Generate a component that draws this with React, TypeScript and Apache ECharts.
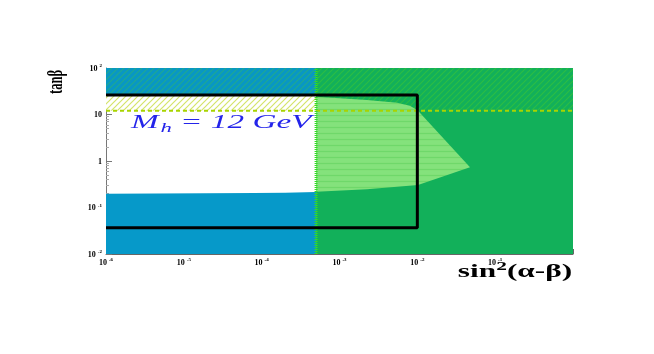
import React, { useEffect, useRef } from "react";
import * as echarts from "echarts";

// Axis ranges and ticks
const xMin = 1e-6;
const xMax = 1;
const yMin = 1e-2;
const yMax = 1e2;
const xTickExps = [-6, -5, -4, -3, -2, -1];
const yTickLabels: Record<string, string> = { "100": "2", "10": "", "1": "", "0.1": "-1", "0.01": "-2" };

// Boundaries
const xSplit = 5e-4;
const tanbLine = 12;

// Regions (x = sin^2(alpha-beta), y = tan beta)
const greenAll = [[xSplit, yMin], [xSplit, yMax], [xMax, yMax], [xMax, yMin]];
const greenUpper = [[xSplit, tanbLine], [xSplit, yMax], [xMax, yMax], [xMax, tanbLine]];
const blueLower = [[xMin, yMin], [xMin, 0.198], [2e-4, 0.207], [xSplit, 0.215], [xSplit, yMin]];
const blueUpper = [[xMin, 26], [xMin, yMax], [xSplit, yMax], [xSplit, 26]];
const yellowBand = [[xMin, tanbLine], [xMin, 26], [xSplit, 26], [xSplit, tanbLine]];
const lightGreen = [
  [xSplit, 24.2], [2.25e-3, 20.5], [5.5e-3, 17.9], [8.0e-3, 15.5], [1.0e-2, 12.5],
  [0.0475, 0.733], [1.02e-2, 0.305], [2.25e-3, 0.246], [xSplit, 0.219],
];
const boxPts = [[xMin, 26.2], [1e-2, 26.2], [1e-2, 0.0368], [xMin, 0.0368]];

function makePattern(bg: string, fg: string, kind: "diag" | "horiz"): any {
  const c = document.createElement("canvas");
  c.width = 6;
  c.height = 6;
  const ctx = c.getContext("2d")!;
  ctx.fillStyle = bg;
  ctx.fillRect(0, 0, 6, 6);
  ctx.strokeStyle = fg;
  ctx.lineWidth = 1.2;
  ctx.beginPath();
  if (kind === "diag") {
    ctx.moveTo(0, 6);
    ctx.lineTo(6, 0);
    ctx.moveTo(-3, 3);
    ctx.lineTo(3, -3);
    ctx.moveTo(3, 9);
    ctx.lineTo(9, 3);
  } else {
    ctx.moveTo(0, 1.5);
    ctx.lineTo(6, 1.5);
  }
  ctx.stroke();
  return { image: c.toDataURL(), repeat: "repeat" };
}

export default function App() {
  const ref = useRef<HTMLDivElement>(null);
  useEffect(() => {
    if (!ref.current) return;
    const chart = echarts.init(ref.current, undefined, { renderer: "svg" });

    const regions = [
      { pts: greenAll, fill: "#12b05a" as any },
      { pts: greenUpper, fill: makePattern("#12b05a", "#2cbd45", "diag") },
      { pts: blueLower, fill: "#0699c9" as any },
      { pts: blueUpper, fill: makePattern("#0897c4", "#20a892", "diag") },
      { pts: yellowBand, fill: makePattern("#ffffff", "#d4e46a", "diag") },
      { pts: lightGreen, fill: makePattern("#84e27c", "#6fd86a", "horiz") },
    ];

    const sup = (e: string) => (e === "" ? "{b|10}" : `{b|10}{s|${e}}`);
    const tickRich = {
      b: { fontFamily: "Liberation Serif", fontWeight: "bold", fontSize: 8, color: "#000" },
      s: { fontFamily: "Liberation Serif", fontWeight: "bold", fontSize: 5, color: "#000", verticalAlign: "top", padding: [0, 0, 5, 2] },
    };

    chart.setOption({
      animation: false,
      grid: { left: 106, top: 68, right: 81, bottom: 100 },
      xAxis: {
        type: "log",
        logBase: 10,
        min: xMin,
        max: xMax,
        axisLine: { show: true, lineStyle: { color: "#666", width: 1 } },
        axisTick: { show: true, inside: true, length: 5, lineStyle: { color: "#666" } },
        minorTick: { show: false },
        splitLine: { show: false },
        axisLabel: {
          margin: 3,
          formatter: (v: number) => {
            const e = Math.round(Math.log10(v));
            return xTickExps.includes(e) ? sup(String(e)) : "";
          },
          rich: tickRich,
        },
      },
      yAxis: {
        type: "log",
        logBase: 10,
        min: yMin,
        max: yMax,
        axisLine: { show: true, lineStyle: { color: "#777", width: 1 } },
        axisTick: { show: true, inside: true, length: 6, lineStyle: { color: "#777" } },
        minorTick: { show: true, length: 3, splitNumber: 9, lineStyle: { color: "#aaa" } },
        splitLine: { show: false },
        axisLabel: {
          margin: 4,
          formatter: (v: number) => {
            const k = String(Number(v.toPrecision(3)));
            if (k === "1") return "{b|1}";
            return k in yTickLabels ? sup(yTickLabels[k]) : "";
          },
          rich: tickRich,
        },
      },
      series: [
        {
          type: "custom",
          coordinateSystem: "cartesian2d",
          clip: true,
          silent: true,
          data: regions.map((_, i) => [1e-3, 1, i]),
          renderItem: (params: any, api: any) => {
            const r = regions[params.dataIndex];
            return {
              type: "polygon",
              shape: { points: r.pts.map((p) => api.coord(p)) },
              style: { fill: r.fill, stroke: null },
            };
          },
          z: 1,
        },
        {
          type: "line",
          data: [[xMin, tanbLine], [xMax, tanbLine]],
          symbol: "none",
          lineStyle: { color: "#a8d400", width: 2, type: [4, 3] },
          z: 3,
        },
        {
          type: "line",
          data: [[xSplit, yMin], [xSplit, yMax]],
          symbol: "none",
          lineStyle: { color: "#33dd22", width: 3, type: [1, 1] },
          z: 3,
        },
        {
          type: "line",
          data: boxPts,
          symbol: "none",
          lineStyle: { color: "#000", width: 3 },
          z: 4,
        },
      ],
      graphic: [
        {
          type: "text",
          x: 55,
          y: 82,
          rotation: Math.PI / 2,
          scaleX: 0.6,
          style: {
            text: "tanβ",
            font: "bold 21px 'Liberation Serif'",
            fill: "#000",
            align: "center",
            verticalAlign: "middle",
          },
        },
        {
          type: "text",
          x: 515,
          y: 271,
          scaleX: 1.65,
          style: {
            text: "{a|sin}{s|2}{a|(α-β)}",
            align: "center",
            verticalAlign: "middle",
            rich: {
              a: { font: "bold 19px 'Liberation Serif'", fill: "#000" },
              s: { font: "bold 13px 'Liberation Serif'", fill: "#000", verticalAlign: "top", padding: [0, 0, 10, 0] },
            } as any,
          },
        },
        {
          type: "text",
          x: 131,
          y: 122,
          z: 10,
          scaleX: 1.75,
          style: {
            text: "{a|M}{s|h}{a| = 12 GeV}",
            verticalAlign: "middle",
            rich: {
              a: { font: "italic 19px 'Liberation Serif'", fill: "#2424ea" },
              s: { font: "italic 13px 'Liberation Serif'", fill: "#2424ea", verticalAlign: "bottom", padding: [10, 0, 0, 1] },
            } as any,
          },
        },
      ],
    });
    return () => chart.dispose();
  }, []);
  return <div ref={ref} style={{ position: "fixed", left: 0, top: 0, width: 654, height: 354 }} />;
}
